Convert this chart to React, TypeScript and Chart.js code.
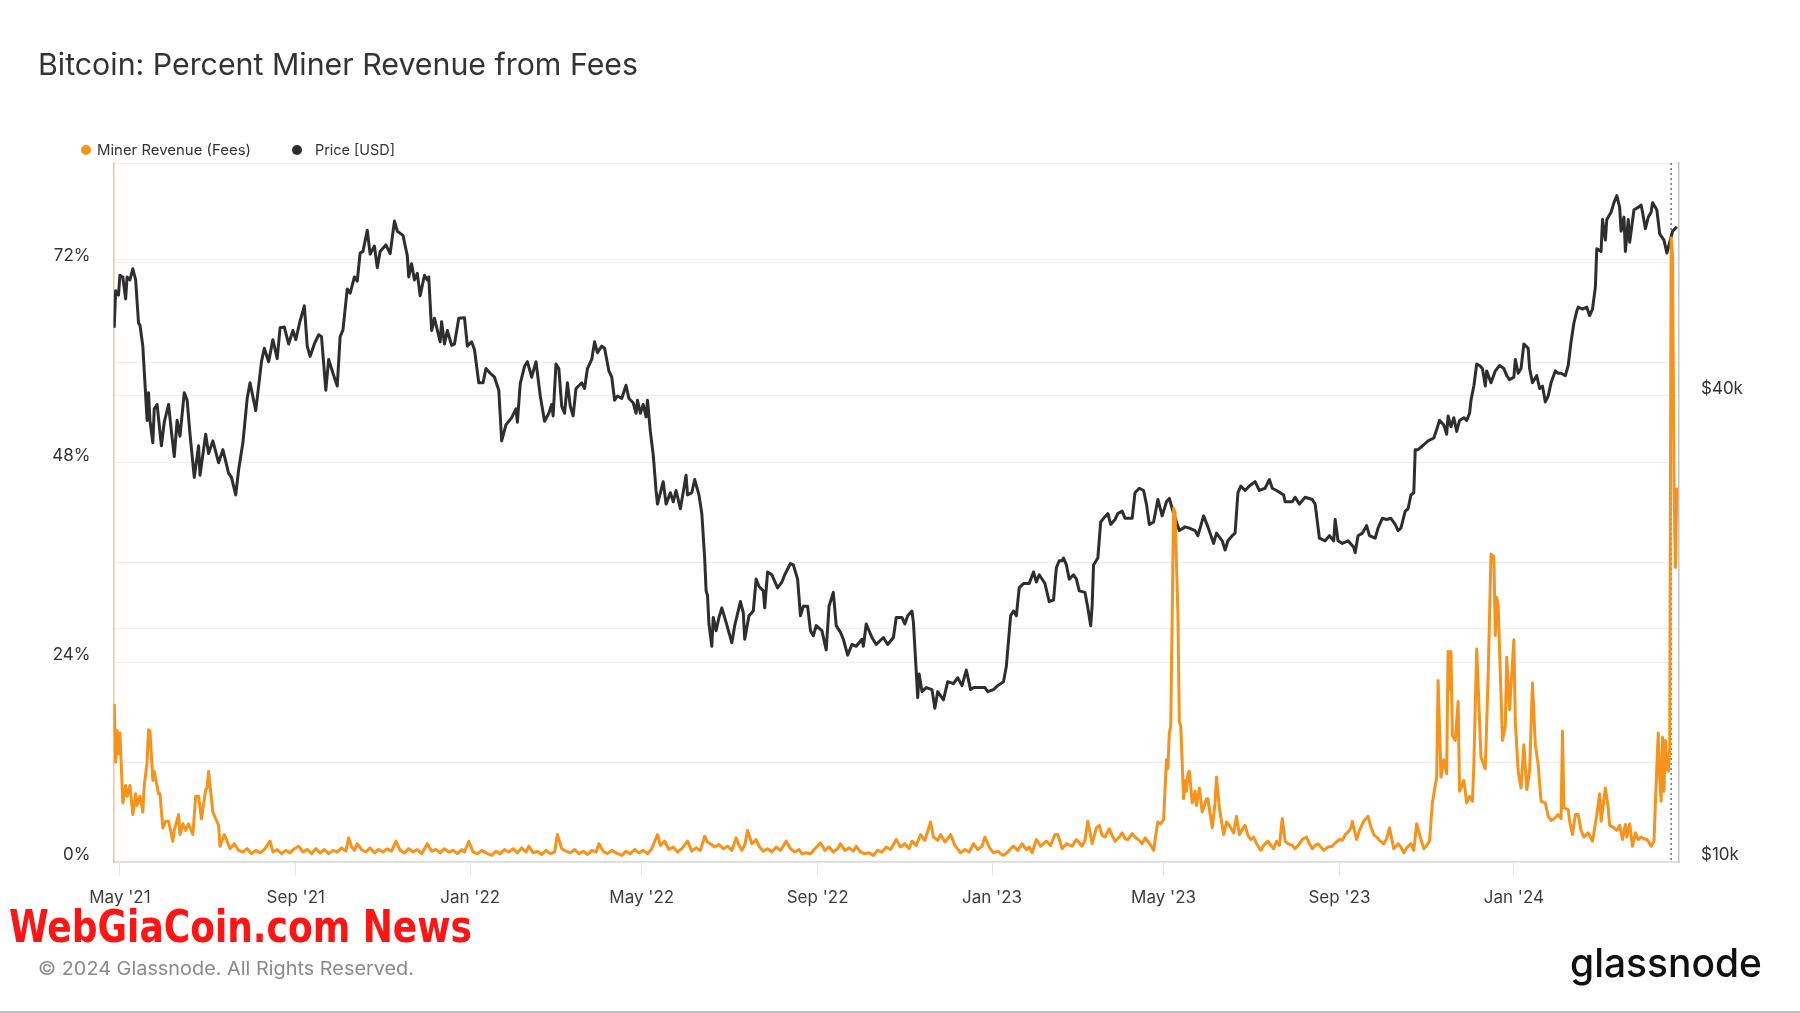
import React, { useEffect, useLayoutEffect, useRef } from 'react';
import { Chart, registerables } from 'chart.js';

Chart.register(...registerables);

// x values are days counted from 1 May 2021
const xTickDays = [0, 123, 245, 365, 488, 610, 730, 853, 975];
const xTickLabels = ["May '21", "Sep '21", "Jan '22", "May '22", "Sep '22", "Jan '23", "May '23", "Sep '23", "Jan '24"];
const feeTicks = [0, 12, 24, 36, 48, 60, 72, 84];
const feeLabelTicks = [0, 24, 48, 72];
const priceTicks = [10, 20, 40, 60];
const priceLabelTicks = [10, 40];
const halvingDay = 1085;

const feeDays = [
  -4, -3, -2, -1, 0, 2, 4, 5, 7, 9, 11, 12, 14, 16, 17, 19, 20, 21, 23, 24, 27, 28, 30, 32, 34, 37, 38, 41, 42, 44, 46, 48, 51, 53, 55, 57, 60, 61, 62, 65, 67, 69, 70, 73, 75, 77, 80, 83,
  86, 89, 92, 95, 98, 101, 105, 107, 110, 113, 116, 119, 122, 125, 128, 131, 134, 137, 140, 143, 146, 149, 152, 155, 158, 160, 162, 164, 166, 169, 172, 175, 178, 181, 184, 187, 190, 193, 196, 199, 202, 205, 208, 211, 215, 218,
  221, 224, 227, 230, 233, 236, 239, 241, 244, 247, 250, 253, 256, 260, 263, 266, 269, 272, 275, 278, 281, 284, 286, 289, 292, 295, 298, 301, 304, 306, 309, 312, 315, 318, 321, 324, 327, 330, 333, 335, 338, 341, 344, 347, 351, 354, 357, 360, 363, 366, 369, 372, 376, 378, 381, 384, 387, 390, 393, 397, 400, 403, 406, 409, 411, 413, 416, 419, 422, 425, 428, 431, 433, 435,
  437, 439, 442, 445, 447, 450, 453, 456, 459, 462, 466, 469, 472, 475, 477, 480, 483, 486, 490, 493, 496, 499, 502, 504, 507, 510, 513, 515, 518, 521, 524, 527, 530, 533, 536, 539, 543, 546, 549, 552, 554, 557, 560, 563, 567, 569, 572, 574, 577, 579, 581, 584, 588, 591, 594, 597, 600, 603, 605, 608, 611, 614, 616, 618, 621, 623, 625, 628, 631, 634, 636, 638, 641, 644, 646, 648, 651, 654,
  656, 659, 662, 666, 669, 673, 675, 677, 680, 683, 685, 687, 689, 692, 694, 696, 699, 701, 703, 705, 708, 710, 713, 715, 717, 719, 721, 723, 725, 726, 728, 730, 732, 733, 734, 735, 737, 738, 740, 741, 742, 744, 745, 746, 747, 748, 750, 752, 753, 755, 757, 760, 761, 764, 766, 767, 769, 772, 774, 776, 779, 781, 783, 785, 787, 789, 791, 793, 795, 798, 800, 803, 805, 807, 809, 811, 813, 815, 817, 820, 822, 825, 827, 830, 832, 834, 836, 838, 840, 842, 845, 848, 850, 853, 855, 857, 859, 861, 862, 865, 867, 870, 873, 875, 877, 879, 881, 884, 886, 888, 891, 894, 896, 898, 900, 903, 905, 907, 910, 912, 914, 916,
  918, 920, 921, 922, 923, 924, 926, 928, 929, 930, 931, 932, 934, 936, 937, 940, 942, 944, 946, 947, 949, 952, 955, 957, 959, 961, 962, 963, 964, 966, 967, 969, 970, 972, 975, 976, 978, 980, 982, 984, 986, 988, 990, 992, 994, 997, 999, 1001, 1003, 1006, 1008, 1009, 1010, 1013, 1014, 1016, 1018, 1020, 1022, 1024, 1027, 1030, 1033, 1035, 1036, 1039, 1041, 1042, 1045, 1047, 1049, 1051, 1053, 1054, 1056, 1058, 1060, 1062, 1064, 1066, 1068, 1069, 1071, 1073, 1074, 1075, 1076, 1077, 1078, 1079, 1080, 1081, 1082, 1083, 1084, 1085, 1086, 1087, 1088, 1089,
];
const feePercent = [
  19.0, 12.0, 15.8, 13.0, 15.5, 7.1, 9.2, 7.9, 9.2, 5.7, 8.2, 6.8, 7.9, 6.0, 9.2, 12.0, 15.9, 15.8, 9.8, 10.9, 8.2, 8.2, 4.1, 4.9, 4.9, 2.5, 3.8, 5.7, 3.3, 4.6, 3.8, 4.6, 3.3, 7.9, 7.9, 5.2, 8.7, 8.9, 10.9, 6.0, 5.2, 4.4, 1.9, 3.3, 2.5, 1.6, 2.2, 1.4,
  1.2, 1.6, 1.0, 1.4, 1.1, 1.5, 2.5, 1.2, 1.5, 1.0, 1.4, 1.1, 1.6, 1.9, 1.2, 1.5, 1.0, 1.6, 1.1, 1.5, 1.0, 1.4, 1.2, 1.7, 1.3, 2.9, 1.8, 1.4, 2.2, 1.5, 1.2, 1.7, 1.1, 1.5, 1.2, 1.6, 1.3, 2.5, 1.4, 1.1, 1.6, 1.2, 1.5, 1.0, 2.2, 1.3,
  1.5, 1.1, 1.6, 1.2, 1.4, 1.0, 1.5, 1.2, 2.5, 1.2, 1.0, 1.4, 1.1, 0.8, 1.3, 1.0, 1.5, 1.2, 1.6, 1.1, 1.7, 1.2, 1.9, 1.1, 1.3, 0.9, 1.4, 1.0, 1.2, 3.3, 1.6, 1.3, 1.1, 1.5, 1.0, 1.3, 0.9, 1.4, 1.2, 2.2, 1.3, 1.0, 1.4, 1.1, 0.8, 1.3, 1.0, 1.5, 1.1, 1.4, 1.0, 1.6, 3.3, 2.0, 2.5, 1.5, 1.8, 1.2, 1.6, 2.5, 1.3, 1.7, 1.4, 3.1, 2.4, 2.2, 1.8, 2.1, 1.6, 1.9, 1.4, 2.9, 2.0, 1.4,
  2.0, 3.8, 2.2, 2.7, 1.9, 1.3, 1.6, 1.2, 1.8, 1.4, 2.5, 1.6, 1.2, 1.5, 1.0, 1.1, 1.0, 1.6, 2.3, 1.4, 1.8, 1.2, 1.6, 2.2, 1.4, 1.7, 1.3, 1.9, 1.2, 1.0, 1.1, 0.8, 1.4, 1.2, 1.8, 1.5, 2.7, 1.8, 2.2, 1.6, 2.5, 2.0, 3.3, 2.6, 4.8, 3.0, 2.6, 3.3, 2.4, 2.8, 3.3, 2.0, 1.1, 1.5, 1.2, 2.2, 1.5, 1.9, 3.0, 1.8, 1.1, 1.3, 1.0, 0.8, 1.2, 1.6, 1.9, 1.4, 2.2, 1.5, 1.8, 1.1, 2.7, 1.9, 2.2, 2.5, 2.0, 3.3,
  3.3, 1.6, 2.2, 1.9, 2.7, 1.9, 2.6, 4.9, 2.2, 4.1, 4.4, 3.2, 3.0, 4.0, 3.2, 2.5, 3.0, 3.5, 2.8, 2.7, 3.4, 3.0, 2.6, 2.2, 2.9, 2.5, 2.0, 1.4, 3.8, 4.8, 4.6, 5.1, 12.3, 11.2, 15.5, 16.3, 42.5, 42.0, 29.9, 16.9, 16.3, 7.6, 9.8, 8.5, 10.6, 10.9, 7.1, 8.5, 6.8, 8.9, 6.0, 7.6, 7.6, 4.1, 7.1, 10.2, 6.5, 3.3, 4.8, 4.4, 3.5, 5.5, 3.3, 3.9, 4.4, 3.2, 2.7, 3.0, 2.2, 1.4, 2.0, 2.5, 2.0, 1.6, 2.5, 2.0, 5.2, 2.5, 2.2, 2.0, 1.6, 2.2, 2.7, 3.0, 2.2, 1.6, 2.0, 2.2, 1.8, 1.4, 1.8, 1.9, 2.3, 2.7, 2.6, 3.3, 3.6, 4.1, 4.9, 2.7, 3.8, 4.9, 5.5, 4.2, 3.3, 3.0, 2.6, 2.2, 2.8, 4.1, 1.6, 2.2, 1.8, 1.1, 1.7, 2.2, 1.4, 4.6, 2.7, 1.6, 2.0, 2.5,
  7.1, 9.2, 10.2, 21.8, 16.3, 10.2, 12.3, 10.6, 25.3, 20.8, 25.3, 15.2, 14.6, 19.3, 8.5, 9.8, 7.1, 7.9, 7.3, 11.7, 25.6, 12.6, 11.2, 22.3, 37.0, 36.7, 27.2, 31.8, 30.8, 20.1, 14.6, 16.3, 24.6, 18.3, 26.7, 16.9, 10.9, 8.9, 14.1, 8.7, 10.9, 21.5, 14.1, 11.7, 7.3, 7.1, 5.5, 5.0, 5.2, 5.7, 5.2, 15.7, 6.5, 6.3, 4.9, 3.3, 5.7, 5.7, 3.8, 3.0, 3.5, 2.5, 5.7, 8.2, 4.9, 8.9, 6.5, 4.4, 4.1, 3.8, 4.4, 2.7, 4.5, 3.0, 4.6, 1.9, 3.5, 2.7, 3.0, 2.8, 2.7, 2.5, 1.9, 2.5, 7.1, 11.4, 15.5, 10.2, 7.3, 15.0, 8.5, 14.6, 11.2, 10.9, 13.6, 75.0, 73.0, 45.7, 35.4, 45.0,
];

const priceDays = [
  -4, -3, -1, 0, 2, 4, 5, 7, 9, 11, 13, 14, 16, 17, 19, 20, 21, 23, 24, 26, 29, 31, 34, 36, 38, 40, 42, 45, 47, 49, 52, 55, 56, 60, 62, 65, 69, 72, 76, 78, 81, 83, 86, 89, 91, 95, 99, 101, 104, 107, 110, 112, 115, 118, 121, 123, 126, 129, 131, 133, 136, 139, 141, 144, 146, 149, 152, 154, 156, 159, 161, 164, 166, 168, 170, 173, 175, 178, 180, 182, 186, 189, 192, 194, 198, 201, 202, 204, 206, 208, 210, 213, 215, 216,
  218, 220, 224, 225, 227, 229, 232, 234, 237, 241, 243, 246, 248, 251, 254, 256, 259, 262, 265, 267, 270, 274, 277, 278, 280, 283, 285, 288, 291, 294, 297, 300, 302, 303, 305, 307, 309, 311, 313, 315, 317, 319, 323, 325, 327, 330, 332, 334, 337, 339, 342, 344, 346, 348, 351, 354, 356, 359, 361, 362, 364, 366, 368, 369, 371, 373, 375, 376, 380, 382, 385, 387, 389, 392, 396, 397, 400, 402, 405, 407, 409, 410, 411, 412, 414, 415, 417, 419, 421, 424, 428, 430, 434, 436, 437,
  440, 443, 445, 447, 450, 451, 453, 456, 460, 463, 465, 469, 471, 474, 476, 478, 481, 483, 485, 487, 491, 494, 496, 499, 501, 504, 506, 509, 512, 515, 519, 520, 522, 526, 529, 534, 537, 541, 543, 547, 549, 551, 554, 555, 557, 558, 559, 561, 564, 568, 570, 572, 576, 579, 583, 586, 589, 592, 595, 597, 605, 607, 611, 614, 618, 620, 623, 625, 627, 629, 632, 636, 639, 641, 643, 647, 650, 653, 655, 657,
  659, 660, 662, 664, 667, 669, 671, 675, 677, 679, 680, 681, 684, 686, 688, 691, 693, 696, 698, 701, 703, 708, 710, 713, 716, 718, 720, 723, 726, 729, 732, 734, 737, 739, 741, 745, 748, 752, 754, 758, 761, 765, 767, 771, 773, 775, 778, 780, 782, 784, 787, 790, 794, 797, 801, 804, 806, 809, 814, 815, 820, 822, 825, 829, 834, 836, 839, 843, 846, 849, 850, 852, 855, 859, 863, 864, 866, 869, 872, 874,
  878, 880, 883, 886, 889, 892, 894, 896, 899, 901, 903, 905, 906, 908, 912, 915, 919, 921, 923, 926, 928, 929, 931, 933, 935, 937, 940, 942, 944, 945, 947, 949, 951, 953, 955, 956, 959, 962, 965, 968, 970, 972, 975, 976, 978, 980, 982, 985, 986, 988, 991, 993, 995, 997, 999, 1001, 1004, 1006, 1008, 1011, 1013, 1015, 1017, 1019, 1020, 1023, 1026, 1028, 1030, 1032, 1033, 1036, 1037, 1039, 1040, 1043, 1045, 1047, 1049, 1050, 1052, 1053, 1055, 1056, 1059, 1062, 1064, 1065, 1067, 1069, 1071, 1072, 1075, 1077, 1080, 1082, 1084, 1086, 1089,
];
// price in thousands of USD
const priceUsdK = [
  49.0, 54.7, 54.0, 57.3, 57.0, 53.4, 57.0, 56.5, 58.4, 56.5, 49.7, 49.4, 46.4, 43.1, 37.2, 40.4, 37.2, 34.8, 38.5, 39.0, 34.5, 37.0, 39.0, 36.0, 33.4, 37.2, 35.5, 40.4, 39.5, 35.7, 31.4, 34.5, 31.6, 35.7, 33.7, 35.0, 32.8, 34.1, 31.8, 31.4, 29.8, 32.1, 34.8, 39.7, 41.6, 38.3, 44.3, 46.1, 44.3, 47.3, 44.7, 49.0, 49.1, 46.7, 48.6, 47.3, 50.0, 52.3, 46.4, 45.0, 46.7, 48.0, 47.7, 40.7, 44.6, 42.8, 41.2, 47.7, 48.7, 55.0, 54.3, 57.0, 56.3, 61.2, 61.5, 65.5, 61.0, 62.5, 58.6, 61.5, 62.7, 61.1, 67.3, 65.3, 64.5, 60.7, 57.0, 59.3, 56.5, 57.6, 53.9, 57.3, 56.5, 57.0,
  48.6, 50.4, 47.0, 49.9, 46.7, 48.6, 46.5, 46.7, 50.4, 50.5, 46.4, 47.0, 45.9, 41.6, 41.6, 43.4, 42.8, 42.3, 40.7, 35.0, 36.7, 37.5, 38.5, 37.0, 41.5, 43.7, 44.3, 42.3, 44.3, 40.0, 37.1, 38.0, 39.0, 37.7, 44.0, 43.4, 38.8, 38.0, 41.6, 38.8, 37.7, 40.9, 41.6, 40.9, 43.4, 44.6, 47.0, 45.5, 46.4, 46.1, 43.1, 42.3, 39.5, 40.0, 39.7, 41.3, 39.7, 39.2, 38.0, 39.5, 38.0, 39.0, 37.6, 39.5, 36.0, 33.6, 30.2, 29.0, 31.0, 29.0, 30.0, 29.2, 30.2, 28.6, 31.6, 29.8, 30.0, 31.2, 29.8, 28.2, 24.7, 22.4, 22.1, 20.3, 19.0, 20.7, 19.9, 20.7, 21.3, 20.4, 19.2, 20.2, 21.7, 21.0, 19.4,
  20.8, 21.1, 23.2, 22.7, 22.4, 21.3, 23.7, 23.5, 22.6, 23.0, 23.5, 24.3, 24.2, 23.2, 20.8, 21.4, 21.4, 19.9, 19.6, 20.2, 19.9, 18.8, 21.4, 22.3, 20.2, 19.8, 19.4, 18.5, 19.1, 19.0, 19.4, 19.0, 20.3, 19.5, 19.1, 19.5, 19.1, 19.5, 20.7, 20.7, 20.3, 20.8, 21.1, 20.4, 17.6, 16.3, 17.5, 16.6, 16.8, 16.7, 15.8, 16.6, 16.2, 17.1, 17.0, 17.3, 16.9, 17.7, 16.7, 16.8, 16.8, 16.6, 16.7, 16.9, 17.1, 17.9, 20.8, 21.1, 20.8, 22.6, 22.9, 22.9, 23.7, 23.0, 23.5, 22.9, 21.7, 21.8, 24.0, 24.5,
  24.5, 24.7, 24.2, 23.2, 23.5, 23.2, 22.4, 22.3, 21.3, 20.2, 21.4, 24.2, 24.7, 27.5, 27.8, 28.2, 27.3, 27.7, 28.2, 28.4, 27.8, 27.8, 30.0, 30.4, 30.2, 29.0, 27.3, 27.5, 29.4, 28.0, 29.2, 29.5, 28.2, 27.5, 26.8, 27.1, 27.0, 26.8, 26.4, 28.0, 27.1, 25.8, 26.6, 26.0, 25.3, 26.0, 26.4, 26.6, 30.0, 30.6, 30.2, 30.6, 31.0, 30.2, 30.4, 31.2, 30.4, 30.2, 29.8, 29.2, 29.2, 29.6, 29.0, 29.6, 29.4, 29.0, 26.2, 26.0, 26.4, 26.0, 27.7, 26.0, 25.8, 26.0, 25.5, 25.1, 26.4, 26.6, 27.2, 26.4,
  26.2, 27.0, 27.8, 27.7, 27.8, 27.3, 26.8, 27.0, 28.4, 28.6, 29.8, 30.0, 34.1, 34.1, 34.6, 35.0, 35.3, 36.2, 37.2, 36.7, 35.7, 37.7, 36.5, 37.5, 36.0, 37.2, 37.5, 37.2, 38.0, 39.5, 41.2, 44.0, 43.8, 43.4, 41.2, 43.1, 41.6, 43.1, 43.8, 43.4, 42.5, 42.0, 42.3, 44.6, 42.8, 43.4, 46.7, 46.1, 43.4, 41.6, 42.5, 40.9, 41.2, 39.3, 40.0, 41.6, 43.1, 42.8, 42.8, 42.5, 43.8, 47.0, 49.7, 51.5, 52.1, 51.8, 52.1, 50.8, 51.8, 55.3, 62.0, 61.5, 67.6, 63.6, 67.6, 69.1, 71.1, 72.6, 70.1, 65.3, 68.1, 61.5, 67.6, 63.2, 69.6, 70.1, 70.6, 69.1, 65.8, 68.1, 69.1, 71.1, 69.6, 64.8, 63.6, 61.2, 63.2, 65.3, 66.2,
];

const FONT = 'Inter, "Noto Sans", sans-serif';

function FitText(props: { text: string; left: number; top: number; width: number; style: React.CSSProperties }) {
  const ref = useRef<HTMLSpanElement>(null);
  useLayoutEffect(() => {
    const el = ref.current;
    if (!el) return;
    el.style.transform = 'none';
    const w = el.getBoundingClientRect().width;
    if (w > 0) el.style.transform = `scaleX(${props.width / w})`;
  }, [props.text, props.width]);
  return (
    <span
      ref={ref}
      style={{
        position: 'absolute',
        left: props.left,
        top: props.top,
        whiteSpace: 'nowrap',
        transformOrigin: '0 0',
        lineHeight: 1,
        ...props.style,
      }}
    >
      {props.text}
    </span>
  );
}

const halvingLine = {
  id: 'halvingLine',
  beforeDatasetsDraw(chart: any) {
    const { ctx, chartArea, scales } = chart;
    const x = scales.x.getPixelForValue(halvingDay);
    ctx.save();
    ctx.strokeStyle = '#6f6f6f';
    ctx.lineWidth = 1.5;
    ctx.setLineDash([2, 3]);
    ctx.beginPath();
    ctx.moveTo(x, chartArea.top);
    ctx.lineTo(x, chartArea.bottom);
    ctx.stroke();
    ctx.restore();
  },
};

export default function App() {
  const canvasRef = useRef<HTMLCanvasElement>(null);

  useEffect(() => {
    const canvas = canvasRef.current;
    if (!canvas) return;
    const chart = new Chart(canvas, {
      type: 'line',
      data: {
        datasets: [
          {
            label: 'Miner Revenue (Fees)',
            data: feeDays.map((d, i) => ({ x: d, y: feePercent[i] })),
            borderColor: '#f7931a',
            backgroundColor: '#f7931a',
            borderWidth: 3,
            pointRadius: 0,
            tension: 0,
            yAxisID: 'y',
            borderJoinStyle: 'round',
          },
          {
            label: 'Price [USD]',
            data: priceDays.map((d, i) => ({ x: d, y: priceUsdK[i] })),
            borderColor: '#2e2e2e',
            backgroundColor: '#2e2e2e',
            borderWidth: 3,
            pointRadius: 0,
            tension: 0,
            yAxisID: 'y1',
            borderJoinStyle: 'round',
          },
        ],
      },
      options: {
        responsive: false,
        animation: false,
        devicePixelRatio: 1,
        layout: { padding: { top: 163, left: 0, right: 0, bottom: 0 } },
        plugins: {
          legend: { display: false },
          title: { display: false },
          tooltip: { enabled: false },
        },
        scales: {
          x: {
            type: 'linear',
            min: -4.5,
            max: 1090.5,
            afterBuildTicks: (s: any) => {
              s.ticks = xTickDays.map((v) => ({ value: v }));
            },
            afterFit: (s: any) => {
              s.height = 151;
            },
            ticks: {
              autoSkip: false,
              maxRotation: 0,
              padding: 12,
              color: '#3d3d3d',
              font: { family: FONT, size: 17 },
              callback: (v: any) => {
                const i = xTickDays.indexOf(Number(v));
                return i >= 0 ? xTickLabels[i] : '';
              },
            },
            grid: { drawOnChartArea: false, drawTicks: true, tickLength: 14, color: '#e6e6e6', lineWidth: 1 },
            border: { display: true, color: '#dcdcdc', width: 1.5 },
          },
          y: {
            type: 'linear',
            position: 'left',
            min: 0,
            max: 84,
            afterBuildTicks: (s: any) => {
              s.ticks = feeTicks.map((v) => ({ value: v }));
            },
            afterFit: (s: any) => {
              s.width = 113.5;
            },
            ticks: {
              padding: 23,
              labelOffset: -7,
              color: '#333333',
              font: { family: FONT, size: 17 },
              callback: (v: any) => (feeLabelTicks.includes(Number(v)) ? `${v}%` : ''),
            },
            grid: { drawTicks: false, color: '#eeeeee', lineWidth: 1 },
            border: { display: true, color: 'rgba(247,147,26,0.55)', width: 1.5 },
          },
          y1: {
            type: 'logarithmic',
            position: 'right',
            min: 10,
            max: 80,
            afterBuildTicks: (s: any) => {
              s.ticks = priceTicks.map((v) => ({ value: v }));
            },
            afterFit: (s: any) => {
              s.width = 121;
            },
            ticks: {
              padding: 22,
              labelOffset: -7,
              color: '#333333',
              font: { family: FONT, size: 17 },
              callback: (v: any) => (priceLabelTicks.includes(Number(v)) ? `$${v}k` : ''),
            },
            grid: { drawTicks: false, color: '#eeeeee', lineWidth: 1 },
            border: { display: true, color: '#c4c4c4', width: 1.5 },
          },
        },
      },
      plugins: [halvingLine],
    } as any);
    return () => chart.destroy();
  }, []);

  return (
    <div
      style={{
        position: 'absolute',
        left: 0,
        top: 0,
        width: 1800,
        height: 1013,
        background: '#ffffff',
        overflow: 'hidden',
        fontFamily: FONT,
      }}
    >
      <canvas ref={canvasRef} width={1800} height={1013} style={{ position: 'absolute', left: 0, top: 0, display: 'block' }} />
      <FitText
        text="Bitcoin: Percent Miner Revenue from Fees"
        left={38}
        top={49}
        width={600}
        style={{ fontSize: 30, color: '#333333', fontWeight: 400 }}
      />
      <div style={{ position: 'absolute', left: 81, top: 145, width: 10, height: 10, borderRadius: 5, background: '#f7931a' }} />
      <FitText text="Miner Revenue (Fees)" left={97} top={142.5} width={154} style={{ fontSize: 14.5, color: '#333333' }} />
      <div style={{ position: 'absolute', left: 292, top: 145, width: 10, height: 10, borderRadius: 5, background: '#2e2e2e' }} />
      <FitText text="Price [USD]" left={315} top={142.5} width={80} style={{ fontSize: 14.5, color: '#333333' }} />
      <FitText
        text="WebGiaCoin.com News"
        left={9}
        top={905}
        width={463}
        style={{ fontSize: 44, color: '#ff1414', fontWeight: 700, fontFamily: '"DejaVu Sans Condensed", "DejaVu Sans", sans-serif' }}
      />
      <FitText
        text="© 2024 Glassnode. All Rights Reserved."
        left={38}
        top={958.5}
        width={376}
        style={{ fontSize: 18.5, color: '#8a8a8a' }}
      />
      <FitText text="glassnode" left={1570} top={943} width={192} style={{ fontSize: 40, color: '#111111', fontWeight: 500 }} />
      <div style={{ position: 'absolute', left: 0, top: 1011, width: 1800, height: 2, background: '#bdbdbd' }} />
    </div>
  );
}
